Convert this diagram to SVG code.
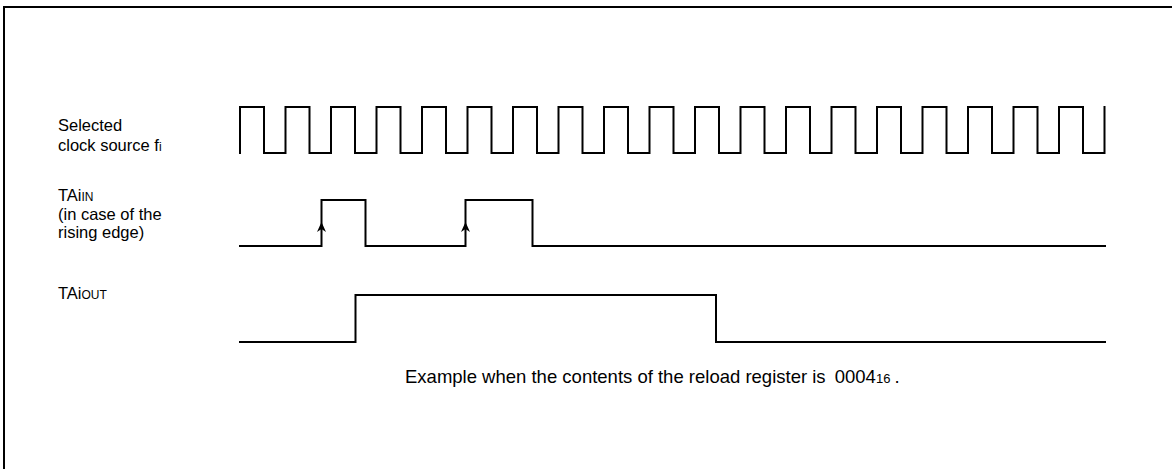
<svg xmlns="http://www.w3.org/2000/svg" width="1172" height="469" viewBox="0 0 1172 469">
<style>
.lbl{font-family:"Liberation Sans",Arial,sans-serif;font-size:16.5px;fill:#000}
.note{font-size:18.5px}
.sm{font-size:12px}
.nsm{font-size:13px}
.wave{fill:none;stroke:#000;stroke-width:2;stroke-linejoin:miter;stroke-linecap:square}
.frame{fill:none;stroke:#000;stroke-width:2}
</style>
<defs>
<path id="arr" d="M0,0 L4.5,10 L0,7 L-4.5,10 Z" fill="#000"/>
</defs>
<rect width="1172" height="469" fill="#fff"/>
<path class="frame" d="M4,469 V7 H1172"/>
<g id="clock">
<text class="lbl" x="58" y="131">Selected</text>
<text class="lbl" x="58" y="151">clock source f<tspan class="sm">i</tspan></text>
<path class="wave" d="M240,153 V107 H264 V153 H285.5 V107 H309.5 V153 H331 V107 H355 V153 H376.5 V107 H400.5 V153 H422 V107 H446 V153 H467.5 V107 H491.5 V153 H513 V107 H537 V153 H558.5 V107 H582.5 V153 H604 V107 H628 V153 H649.5 V107 H673.5 V153 H695 V107 H719 V153 H740.5 V107 H764.5 V153 H786 V107 H810 V153 H831.5 V107 H855.5 V153 H877 V107 H901 V153 H922.5 V107 H946.5 V153 H968 V107 H992 V153 H1013.5 V107 H1037.5 V153 H1059 V107 H1083 V153 H1104.5 V107"/>
</g>
<g id="taiin">
<text class="lbl" x="58" y="201">TAi<tspan class="sm">IN</tspan></text>
<text class="lbl" x="58" y="219.5">(in case of the</text>
<text class="lbl" x="58" y="238">rising edge)</text>
<path class="wave" d="M240,246 H321.5 V200 H365.5 V246 H465.5 V200 H532.5 V246 H1105"/>
</g>
<g id="taiout">
<text class="lbl" x="58" y="299">TAi<tspan class="sm">OUT</tspan></text>
<path class="wave" d="M240,342 H355.5 V295 H716 V342 H1105"/>
</g>
<g id="connectors">
<use href="#arr" x="321.5" y="222"/>
<use href="#arr" x="465.5" y="222"/>
</g>
<g id="note">
<text class="lbl note" x="405" y="383">Example when the contents of the reload register is <tspan dx="4">0004</tspan><tspan class="nsm">16</tspan><tspan dx="4">.</tspan></text>
</g>
</svg>
